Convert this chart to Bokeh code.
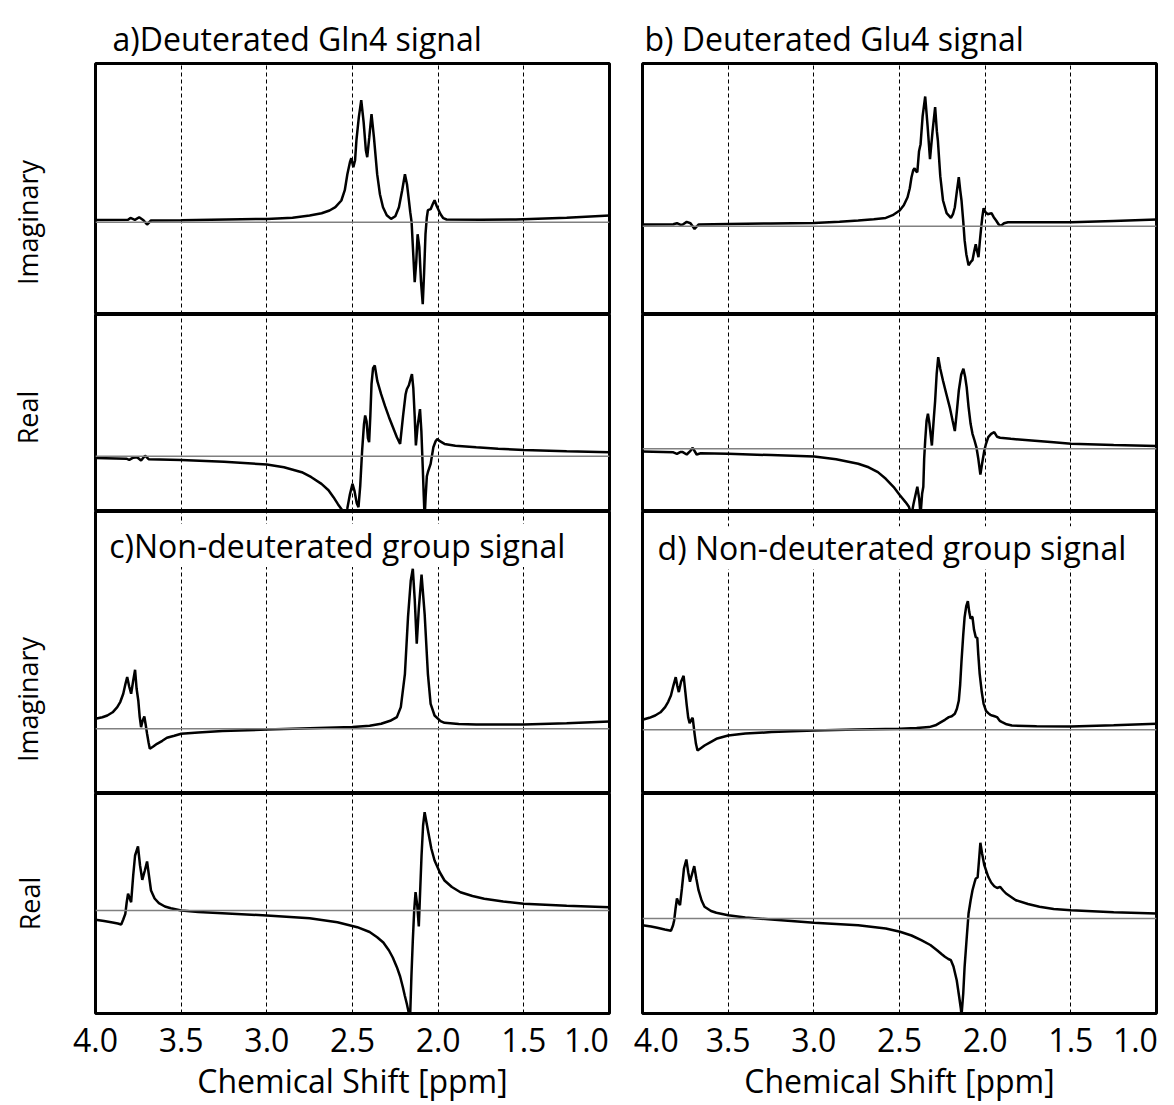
import math
from bokeh.plotting import figure
from bokeh.models import Range1d, FixedTicker, Span, Label
from bokeh.core.properties import value
from bokeh.layouts import row, column
from bokeh.embed import file_html
from bokeh.resources import INLINE

FONT = "Open Sans"

# ---------------- text / ticks ----------------
x_ticks = [4.0, 3.5, 3.0, 2.5, 2.0, 1.5, 1.0]
tick_labels = ["4.0", "3.5", "3.0", "2.5", "2.0", "1.5", "1.0"]
grid_ppm = [3.5, 3.0, 2.5, 2.0, 1.5]
titles_top = ["a)Deuterated Gln4 signal", "b) Deuterated Glu4 signal"]
titles_inner = ["c)Non-deuterated group signal", "d) Non-deuterated group signal"]
row_labels = ["Imaginary", "Real", "Imaginary", "Real"]
x_label = "Chemical Shift [ppm]"

# ---------------- data (ppm, intensity a.u.) ----------------
# a) Deuterated Gln4 - imaginary
a_imag_ppm = [4.0, 3.81, 3.796, 3.77, 3.745, 3.72, 3.699, 3.676, 3.5, 3.0, 2.85, 2.75, 2.68, 2.634,
              2.60, 2.565, 2.545, 2.530, 2.515, 2.507, 2.495, 2.485, 2.477, 2.463, 2.449, 2.435,
              2.422, 2.414, 2.402, 2.389, 2.375, 2.356, 2.340, 2.322, 2.300, 2.275, 2.25, 2.229,
              2.210, 2.194, 2.182, 2.171, 2.163, 2.155, 2.146, 2.137, 2.128, 2.120, 2.110, 2.100,
              2.090, 2.082, 2.074, 2.066, 2.060, 2.044, 2.032, 2.021, 2.008, 1.986, 1.970, 1.951,
              1.75, 1.546, 1.25, 1.0]
a_imag_val = [2.3, 2.5, 4.3, 2.3, 5.0, 2.0, -2.3, 1.7, 2.0, 3.3, 4.5, 6.7, 9.0, 11.7,
              15, 21.7, 32, 48, 60, 64, 55, 62, 82, 105, 122, 100,
              72, 65, 85, 108, 85, 48, 28, 15, 7, 3.3, 6, 15,
              32, 48, 38, 22, 10, 0, -30, -60, -40, -12, -25, -60,
              -82, -50, -12, 5, 12, 13, 18, 22, 16, 8, 4, 2.7,
              2.5, 2.7, 4.5, 6.7]

# a) Deuterated Gln4 - real
a_real_ppm = [4.0, 3.82, 3.803, 3.78, 3.757, 3.734, 3.711, 3.69, 3.5, 3.25, 3.0, 2.90, 2.796, 2.74,
              2.681, 2.64, 2.611, 2.585, 2.565, 2.550, 2.542, 2.530, 2.515, 2.500, 2.488, 2.475,
              2.465, 2.455, 2.444, 2.433, 2.426, 2.418, 2.410, 2.403, 2.396, 2.389, 2.380, 2.370,
              2.355, 2.333, 2.310, 2.287, 2.264, 2.241, 2.222, 2.205, 2.190, 2.183, 2.171, 2.160,
              2.153, 2.145, 2.137, 2.130, 2.120, 2.106, 2.098, 2.090, 2.084, 2.079, 2.073, 2.066,
              2.060, 2.044, 2.028, 2.015, 2.005, 1.990, 1.963, 1.90, 1.778, 1.65, 1.5, 1.25, 1.0]
a_real_val = [-1.7, -2.5, -3.7, -1.5, -1.0, -4.3, 0.5, -3.0, -3.7, -5.5, -8.3, -11, -16, -21,
              -27.7, -34, -41, -48, -52.7, -58, -62, -52, -38, -27.7, -35, -47,
              -51, -30, 5, 32, 40.7, 35, 18, 14, 40, 72, 88, 90.7,
              75, 62, 50, 39, 29, 19, 12.3, 40, 62, 67, 71, 78,
              82, 68, 40, 10.7, 30, 47, 25, -11, -40, -62, -40, -20,
              -16, -7.7, 9, 15, 17.3, 15, 12.3, 10.5, 9, 7.5, 6.3, 5, 4]

# b) Deuterated Glu4 - imaginary
b_imag_ppm = [4.0, 3.82, 3.799, 3.78, 3.765, 3.742, 3.72, 3.696, 3.673, 3.5, 3.25, 3.0, 2.85, 2.741,
              2.65, 2.58, 2.54, 2.499, 2.475, 2.453, 2.440, 2.430, 2.420, 2.412, 2.404, 2.396,
              2.386, 2.377, 2.365, 2.350, 2.336, 2.322, 2.307, 2.292, 2.282, 2.276, 2.262, 2.246,
              2.225, 2.200, 2.188, 2.177, 2.165, 2.154, 2.145, 2.138, 2.128, 2.120, 2.110, 2.097,
              2.085, 2.074, 2.064, 2.055, 2.047, 2.039, 2.031, 2.023, 2.016, 2.009, 1.998, 1.986,
              1.975, 1.963, 1.950, 1.936, 1.922, 1.908, 1.890, 1.867, 1.70, 1.499, 1.25, 1.0]
b_imag_val = [1.7, 2.0, 3.0, 1.5, 1.7, 4.3, 3.0, -2.7, 1.7, 2.3, 2.8, 3.3, 4.5, 5.7,
              7.0, 8.3, 11, 15.7, 21, 29, 38, 49, 56, 58, 55, 54,
              75, 82, 110, 129.7, 100, 67, 95, 119, 95, 85.7, 50, 25.7,
              13, 8.3, 12, 19, 35, 49, 35, 25.7, 5, -14, -28, -39,
              -36, -34, -25, -18, -25, -31, -15, -1, 10, 18, 14, 12,
              12.5, 13, 9, 5.7, 2, 0.3, 3, 4, 4, 4, 5.3, 6.7]

# b) Deuterated Glu4 - real
b_real_ppm = [4.0, 3.82, 3.799, 3.78, 3.765, 3.742, 3.72, 3.707, 3.684, 3.66, 3.5, 3.25, 2.998, 2.87,
              2.741, 2.68, 2.626, 2.58, 2.534, 2.50, 2.465, 2.445, 2.430, 2.418, 2.396, 2.385,
              2.377, 2.368, 2.361, 2.356, 2.350, 2.342, 2.334, 2.325, 2.311, 2.300, 2.292, 2.283,
              2.274, 2.262, 2.246, 2.227, 2.207, 2.190, 2.177, 2.165, 2.154, 2.140, 2.127, 2.117,
              2.108, 2.097, 2.085, 2.074, 2.062, 2.051, 2.040, 2.028, 2.018, 2.005, 1.995, 1.982,
              1.965, 1.947, 1.930, 1.913, 1.85, 1.729, 1.60, 1.499, 1.25, 1.0]
b_real_val = [-2.7, -3.5, -5.0, -3.3, -3.3, -5.7, -2.0, 1.0, -5.7, -4.5, -5.0, -6.3, -7.7, -10.5,
              -15, -18.5, -23.3, -30, -38.3, -46, -53.3, -58, -66, -55, -38, -50,
              -66, -45, -38, -10, 8.3, 28, 35, 25, 3.3, 30, 48, 75,
              91.7, 80, 68, 55, 41.7, 28, 17.7, 38, 58, 74, 80, 72,
              61.7, 42, 25, 15, 8.3, 1.5, -10, -25.7, -15, -1.7, 5, 11.7,
              15, 16.7, 12, 11, 10, 8.3, 6.5, 5, 3.7, 2.7]

# c) Non-deuterated group (Gln) - imaginary
c_imag_ppm = [4.0, 3.96, 3.931, 3.90, 3.873, 3.855, 3.838, 3.825, 3.815, 3.803, 3.792, 3.780, 3.769,
              3.760, 3.750, 3.742, 3.734, 3.725, 3.715, 3.707, 3.699, 3.690, 3.683, 3.665, 3.641,
              3.61, 3.583, 3.54, 3.5, 3.40, 3.259, 3.0, 2.75, 2.5, 2.40, 2.333, 2.28, 2.241, 2.218,
              2.194, 2.176, 2.160, 2.148, 2.137, 2.125, 2.113, 2.097, 2.079, 2.060, 2.044, 2.021,
              1.986, 1.963, 1.88, 1.778, 1.5, 1.25, 1.0]
c_imag_val = [10, 11.5, 13.3, 16.5, 21.7, 27, 35, 45, 51.7, 42, 35, 48, 59,
              40, 28, 12, 1.7, 8, 12.3, 4, -5, -14, -20, -18, -15,
              -12, -9, -7, -5, -3.7, -2.3, -0.7, 0.5, 1.7, 3, 5, 8, 11.7, 21.7,
              55, 111.7, 148, 160, 130, 85, 120, 154.3, 115, 55, 25, 13.3,
              7.7, 6, 4.8, 4.3, 4.3, 5.5, 7.3]

# c) Non-deuterated group (Gln) - real
c_real_ppm = [4.0, 3.95, 3.90, 3.87, 3.850, 3.838, 3.826, 3.818, 3.810, 3.800, 3.792, 3.780, 3.769,
              3.752, 3.740, 3.727, 3.712, 3.699, 3.688, 3.676, 3.655, 3.630, 3.595, 3.560, 3.5,
              3.4, 3.259, 3.0, 2.75, 2.588, 2.472, 2.40, 2.356, 2.32, 2.287, 2.265, 2.241, 2.222,
              2.206, 2.195, 2.183, 2.172, 2.164, 2.156, 2.148, 2.140, 2.132, 2.122, 2.113, 2.105,
              2.097, 2.088, 2.079, 2.068, 2.056, 2.040, 2.021, 1.99, 1.963, 1.92, 1.870, 1.80,
              1.731, 1.62, 1.5, 1.25, 1.0]
c_real_val = [-9.3, -10.5, -12, -13, -14, -9, -3.3, 8, 16.7, 12, 8.3, 35, 55,
              64, 45, 30.7, 40, 49, 35, 20, 12, 7.3, 4, 2.3, 0,
              -1.5, -2.7, -5, -7.7, -11.7, -16.7, -21.5, -26.7, -32, -40, -47, -56.7, -66,
              -76.7, -85, -93.3, -102, -108, -65, -30, 0, 18.3, 5, -16, 20,
              55, 85, 98.3, 88, 76.7, 62, 50, 38, 30, 23.5, 18.3, 14.5,
              11.7, 9, 6.7, 4.8, 3.3]

# d) Non-deuterated group (Glu) - imaginary
d_imag_ppm = [4.0, 3.96, 3.926, 3.895, 3.868, 3.850, 3.834, 3.820, 3.806, 3.797, 3.788, 3.775, 3.760,
              3.750, 3.742, 3.733, 3.725, 3.715, 3.707, 3.700, 3.696, 3.688, 3.679, 3.66, 3.638,
              3.60, 3.569, 3.5, 3.40, 3.247, 2.998, 2.75, 2.497, 2.40, 2.327, 2.29, 2.258, 2.235,
              2.212, 2.195, 2.177, 2.165, 2.154, 2.146, 2.138, 2.128, 2.120, 2.110, 2.101, 2.093,
              2.085, 2.078, 2.074, 2.065, 2.055, 2.046, 2.040, 2.032, 2.020, 2.009, 1.995, 1.982,
              1.970, 1.959, 1.945, 1.931, 1.915, 1.901, 1.875, 1.844, 1.70, 1.499, 1.25, 1.0]
d_imag_val = [10, 12, 14.3, 17.5, 22.7, 28, 34.3, 44, 52.7, 44, 37.7, 48, 54,
              38, 25, 12, 6.7, 10, 12, 2, -4, -14, -20.7, -18.5, -15.7,
              -12, -9, -5.7, -3.8, -2.3, -0.7, 0.3, 1, 1.8, 2.7, 4.5, 7.7, 10,
              12.7, 13.5, 16, 21, 29, 45, 69, 95, 112.7, 124, 128.7, 118,
              111, 113, 112.7, 100, 92.7, 92, 75, 56, 38, 26, 19, 16.7,
              15, 14.3, 13.5, 12.7, 9, 7.7, 5.5, 4.3, 3.5, 3.3, 4.5, 6]

# d) Non-deuterated group (Glu) - real
d_real_ppm = [4.0, 3.95, 3.914, 3.87, 3.834, 3.822, 3.815, 3.807, 3.799, 3.790, 3.781, 3.770, 3.758,
              3.744, 3.733, 3.723, 3.710, 3.698, 3.686, 3.673, 3.655, 3.638, 3.60, 3.569, 3.5,
              3.40, 3.247, 2.998, 2.741, 2.58, 2.497, 2.43, 2.373, 2.32, 2.281, 2.255, 2.235, 2.215,
              2.200, 2.185, 2.166, 2.152, 2.142, 2.138, 2.128, 2.120, 2.108, 2.097, 2.085, 2.074,
              2.062, 2.055, 2.044, 2.036, 2.028, 2.018, 2.005, 1.982, 1.965, 1.947, 1.930, 1.913,
              1.895, 1.878, 1.821, 1.75, 1.683, 1.60, 1.499, 1.25, 1.0]
d_real_val = [-6.7, -8, -9.3, -11, -12.3, -7, -1.7, 10, 20, 16, 13.3, 30, 50,
              59, 46, 36.7, 45, 52.3, 40, 28.3, 18, 11.7, 7.5, 5.7, 3.3,
              1, -1, -4.3, -6.7, -10, -13.3, -17, -21.7, -26.5, -31.7, -35.5, -38.3, -40.5,
              -41.7, -48, -61.7, -78, -90, -97, -75, -48.3, -20, 5, 18, 28.3,
              36, 40, 41, 58, 75.7, 65, 53.3, 41.7, 36, 32.3, 30.5, 31.7,
              28, 25, 18.3, 14.5, 11.7, 9.5, 8.3, 6.3, 5]

series = [
    [(a_imag_ppm, a_imag_val), (a_real_ppm, a_real_val), (c_imag_ppm, c_imag_val), (c_real_ppm, c_real_val)],
    [(b_imag_ppm, b_imag_val), (b_real_ppm, b_real_val), (d_imag_ppm, d_imag_val), (d_real_ppm, d_real_val)],
]

# ---------------- layout (pixels) ----------------
PAGE_W = 1174
HEADER_H = 61
LABEL_W = 93
FRAME_W = 514
FRAME_H = [251, 197, 282, 220]
BOTTOM_BORDER = 92
Y_RANGES = [
    [(-92.3, 158.7), (-55.3, 141.7), (-64.7, 217.3), (-103, 117)],
    [(-88.3, 162.7), (-62.7, 134.3), (-63.7, 218.3), (-95, 125)],
]
TITLE_X = [112, 644]          # header text positions (page px)
TITLE_BASELINE = 38
ROWLABEL_X = 27               # rotated row labels (page px)
ROWLABEL_Y = [222, 417, 699]
INNER_X = [3.92, 3.912]
INNER_Y = [183.3, 182.0]

NB = "\u00a0"
overrides = [dict(zip(x_ticks, tick_labels)), dict(zip(x_ticks, tick_labels))]
overrides[0][1.0] = tick_labels[-1] + NB * 2
overrides[1][4.0] = NB + tick_labels[0]
overrides[1][1.0] = tick_labels[-1] + NB * 2


def bare(p):
    p.xgrid.visible = False
    p.ygrid.visible = False
    p.outline_line_color = None
    p.background_fill_color = "white"
    p.border_fill_color = "white"


# header with the two panel titles
header = figure(width=PAGE_W, height=HEADER_H, x_range=Range1d(0, PAGE_W),
                y_range=Range1d(HEADER_H, 0), output_backend="svg", toolbar_location=None,
                min_border=0, x_axis_location=None, y_axis_location=None)
bare(header)
header.text(x=TITLE_X, y=[TITLE_BASELINE] * 2, text=titles_top,
            text_font=value(FONT), text_font_size="32px", text_color="black",
            text_align="left", text_baseline="alphabetic")

# strip with the rotated row labels for the upper three rows
label_h = sum(FRAME_H[:3]) + 2
label_fig = figure(width=LABEL_W, height=label_h, x_range=Range1d(0, LABEL_W),
                   y_range=Range1d(HEADER_H + label_h, HEADER_H), output_backend="svg",
                   toolbar_location=None, min_border=0,
                   x_axis_location=None, y_axis_location=None)
bare(label_fig)
label_fig.text(x=[ROWLABEL_X] * 3, y=ROWLABEL_Y, text=row_labels[:3], angle=math.pi / 2,
               text_font=value(FONT), text_font_size="27px", text_color="black",
               text_align="center", text_baseline="middle")


def panel(c, i):
    if c == 0:
        lb, rb = (95, 16) if i == 3 else (2, 16)
    else:
        lb, rb = 17, 18
    tb = 2 if i == 0 else 0
    bb = BOTTOM_BORDER if i == 3 else 0
    p = figure(width=lb + FRAME_W + rb, height=tb + FRAME_H[i] + bb,
               x_range=XR[c], y_range=Range1d(*Y_RANGES[c][i]),
               output_backend="svg", toolbar_location=None,
               min_border_left=lb, min_border_right=rb,
               min_border_top=tb, min_border_bottom=bb,
               x_axis_location="below" if i == 3 else None,
               y_axis_location="left" if (i == 3 and c == 0) else None)
    p.background_fill_color = "white"
    p.border_fill_color = "white"
    p.outline_line_color = "black"
    p.outline_line_width = 3
    p.ygrid.visible = False
    p.xgrid.ticker = FixedTicker(ticks=grid_ppm)
    p.xgrid.grid_line_color = "black"
    p.xgrid.grid_line_width = 1
    p.xgrid.grid_line_dash = "4 3"

    if i == 2:
        p.add_layout(Label(x=INNER_X[c], y=INNER_Y[c], text=titles_inner[c],
                           text_font=FONT, text_font_size="32px",
                           text_align="left", text_baseline="alphabetic",
                           text_color="black",
                           background_fill_color="white", background_fill_alpha=1.0))
    if i == 3:
        ax = p.xaxis[0]
        ax.ticker = FixedTicker(ticks=x_ticks)
        ax.major_label_overrides = overrides[c]
        ax.major_label_text_font = FONT
        ax.major_label_text_font_size = "32px"
        ax.major_label_text_color = "black"
        ax.major_label_standoff = 4
        ax.major_tick_line_color = None
        ax.minor_tick_line_color = None
        ax.major_tick_in = 0
        ax.major_tick_out = 0
        ax.minor_tick_in = 0
        ax.minor_tick_out = 0
        ax.axis_line_color = None
        ax.axis_label = x_label
        ax.axis_label_text_font = FONT
        ax.axis_label_text_font_size = "32px"
        ax.axis_label_text_font_style = "normal"
        ax.axis_label_text_color = "black"
        ax.axis_label_standoff = -5
        if c == 0:
            ay = p.yaxis[0]
            ay.ticker = FixedTicker(ticks=[])
            ay.major_label_text_font_size = "0px"
            ay.major_label_standoff = 0
            ay.major_tick_line_color = None
            ay.minor_tick_line_color = None
            ay.major_tick_in = 0
            ay.major_tick_out = 0
            ay.minor_tick_in = 0
            ay.minor_tick_out = 0
            ay.axis_line_color = None
            ay.axis_label = row_labels[3]
            ay.axis_label_text_font = FONT
            ay.axis_label_text_font_size = "27px"
            ay.axis_label_text_font_style = "normal"
            ay.axis_label_text_color = "black"
            ay.axis_label_standoff = 48

    p.add_layout(Span(location=0, dimension="width", line_color="#808080", line_width=1.5))
    ppm, val = series[c][i]
    p.line(ppm, val, line_color="black", line_width=2.5)
    return p


XR = [Range1d(4.0, 1.0), Range1d(4.0, 1.0)]
left = [panel(0, i) for i in range(4)]
right = [panel(1, i) for i in range(4)]

left_block = column(row(label_fig, column(*left[:3])), left[3])
right_block = column(*right)
layout = column(header, row(left_block, right_block))
open("out.html", "w").write(file_html(layout, INLINE, title="NMR signals"))
